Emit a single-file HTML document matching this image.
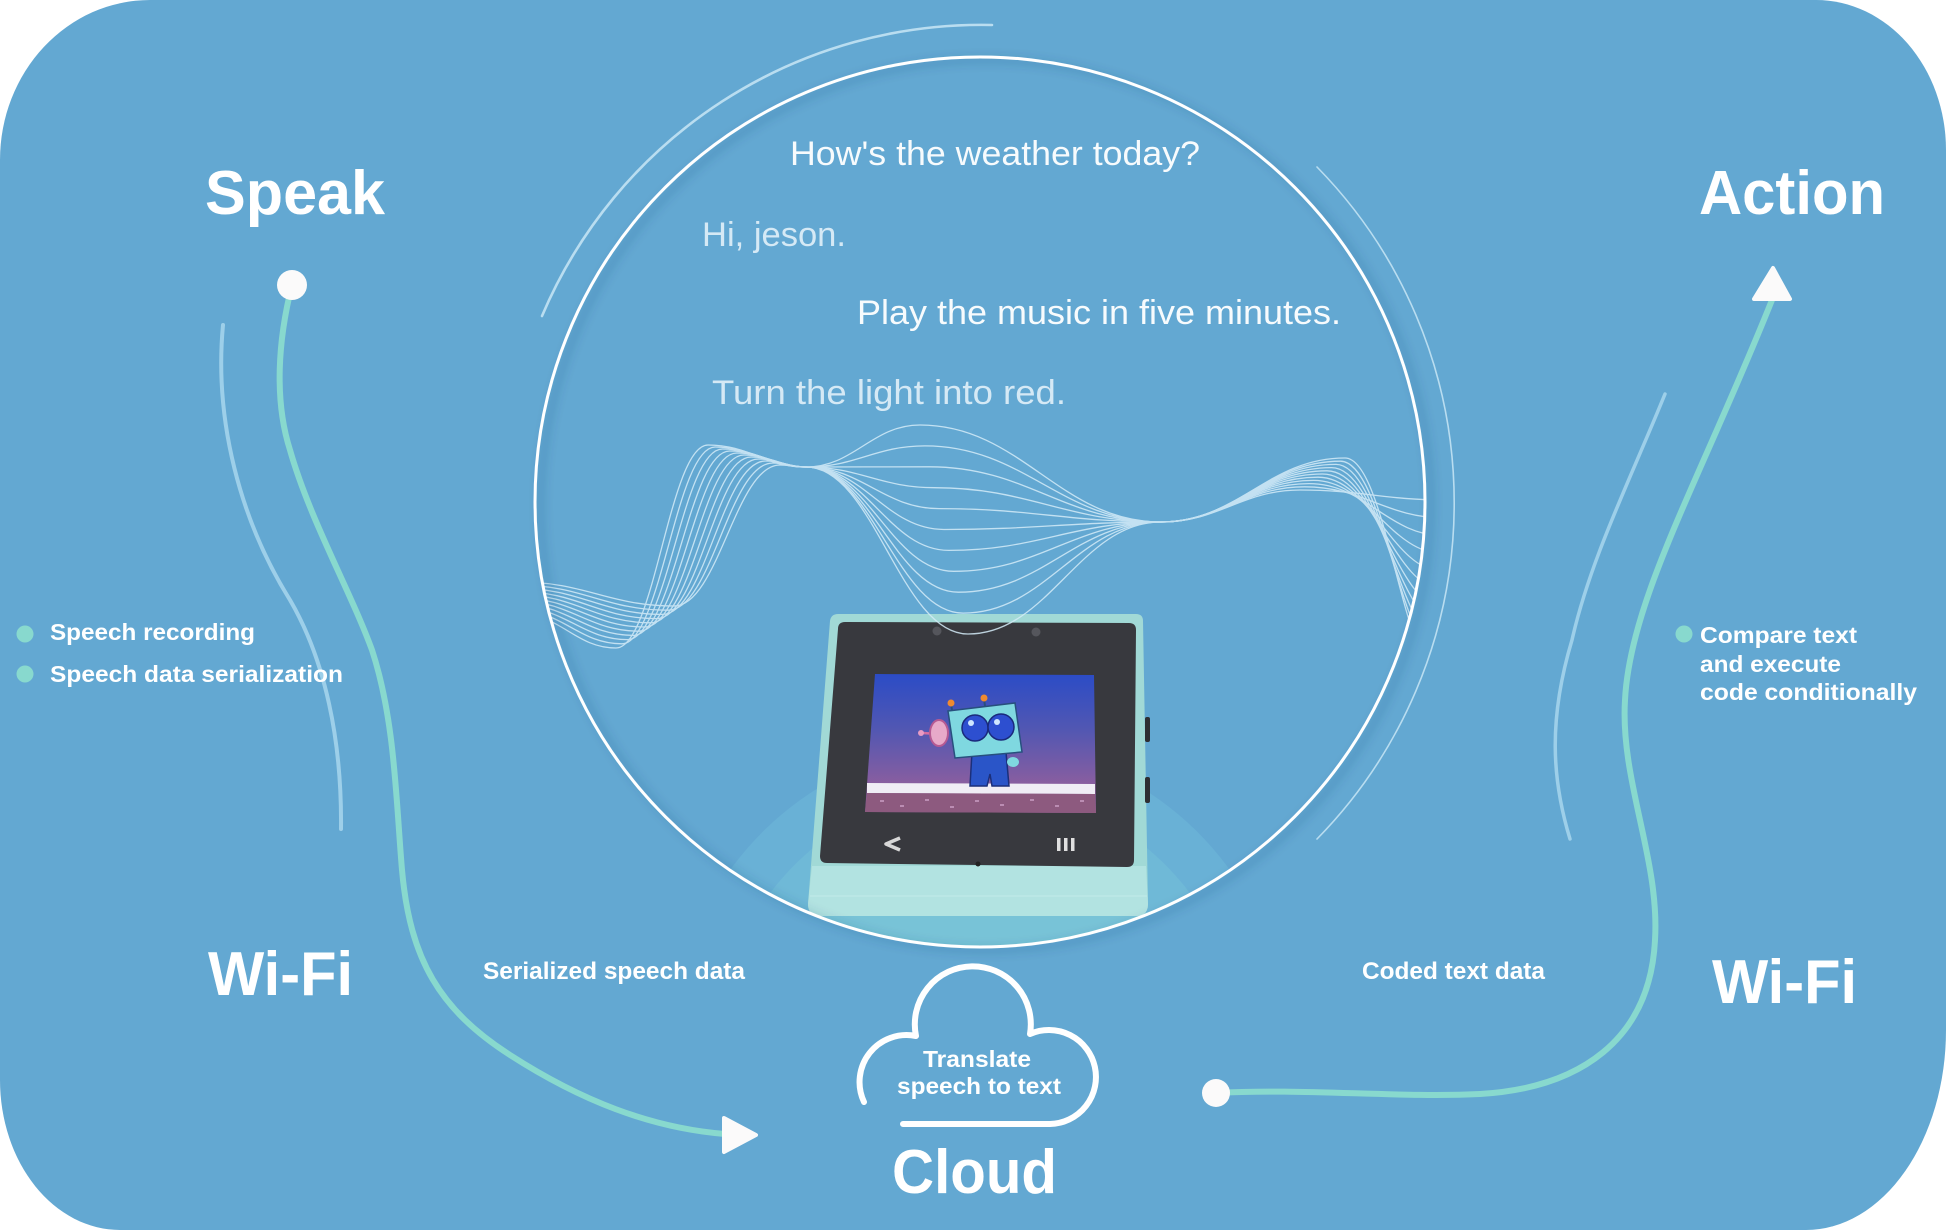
<!DOCTYPE html>
<html>
<head>
<meta charset="utf-8">
<style>
html,body{margin:0;padding:0;background:#ffffff;width:1946px;height:1230px;overflow:hidden;position:relative}
svg{display:block;position:absolute;left:0;top:0}
text{font-family:"Liberation Sans",sans-serif}
.t{font-weight:bold;fill:#ffffff}
</style>
</head>
<body>
<svg width="1946" height="1230" viewBox="0 0 1946 1230" xmlns="http://www.w3.org/2000/svg">
<defs>
  <clipPath id="cc"><circle cx="980" cy="502" r="444"/></clipPath>
  <filter id="sh" x="-5%" y="-5%" width="110%" height="110%">
    <feDropShadow dx="6" dy="3" stdDeviation="5" flood-color="#17466f" flood-opacity="0.4"/>
  </filter>
  <linearGradient id="scr" x1="0" y1="674" x2="0" y2="786" gradientUnits="userSpaceOnUse">
    <stop offset="0" stop-color="#2b4cc6"/>
    <stop offset="0.5" stop-color="#5257b2"/>
    <stop offset="1" stop-color="#8b5e9f"/>
  </linearGradient>
</defs>

<!-- background -->
<path d="M150,0 H1816 A130,150 0 0 1 1946,150 V1030 A140,200 0 0 1 1806,1230 H120 A120,150 0 0 1 0,1080 V160 A150,160 0 0 1 150,0 Z" fill="#63a8d2"/>

<!-- faint outer arcs -->
<path d="M542,316 A477,477 0 0 1 992,25" fill="none" stroke="#c2e2f3" stroke-width="2.6" stroke-linecap="round" opacity="0.9"/>
<path d="M1317,167 A480,480 0 0 1 1317,839" fill="none" stroke="#c2e2f3" stroke-width="1.6" stroke-linecap="round" opacity="0.9"/>

<!-- faint side lines -->
<path d="M223,325 C214,420 240,520 290,600 C325,660 342,740 341,829" fill="none" stroke="#9dcfe9" stroke-width="4" stroke-linecap="round"/>
<path d="M1665,394 C1630,480 1590,560 1572,640 C1548,720 1552,780 1570,839" fill="none" stroke="#9dcfe9" stroke-width="3.5" stroke-linecap="round"/>

<!-- glow inside circle -->
<g clip-path="url(#cc)">
  <path d="M688.7,950 A308,308 0 0 1 1271.3,950 Z" fill="#69b1d6"/>
  <path d="M737.8,950 A262,262 0 0 1 1222.2,950 Z" fill="#6fb9d7"/>
  <path d="M788.5,950 A216,216 0 0 1 1171.5,950 Z" fill="#78c3d7"/>
</g>

<!-- device -->
<g>
  <path d="M838,614 L1136,614 Q1143,614 1143,621 L1148,904 Q1148,916 1136,916 L821,916 Q808,916 808,904 L830,621 Q831,614 838,614 Z" fill="#a1d9d6"/>
  <path d="M812,866 L1146,866 L1148,904 Q1148,916 1136,916 L821,916 Q808,916 808,904 Z" fill="#b2e3e1"/>
  <line x1="810" y1="896" x2="1147" y2="896" stroke="#c3ebe9" stroke-width="1"/>
  <path d="M845,622 L1129,623 Q1136,623 1136,630 L1134,860 Q1134,867 1127,867 L827,863 Q820,863 820,856 L838,629 Q838,622 845,622 Z" fill="#38393e"/>
  <circle cx="937" cy="631" r="4.5" fill="#55565c"/>
  <circle cx="1036" cy="632" r="4.5" fill="#55565c"/>
  <circle cx="978" cy="864" r="2.5" fill="#222"/>
  <rect x="1145" y="717" width="5" height="25" rx="2" fill="#2e2f33"/>
  <rect x="1145" y="777" width="5" height="26" rx="2" fill="#2e2f33"/>
  <!-- screen -->
  <polygon points="875,674 1094,675 1096,813 865,812" fill="url(#scr)"/>
  <polygon points="867,783 1095,784 1095,794 867,793" fill="#f0edf5"/>
  <polygon points="867,793 1095,794 1096,813 865,812" fill="#8d5a7f"/>
  <g fill="#c79ac0" opacity="0.8">
    <rect x="880" y="800" width="4" height="2"/><rect x="900" y="805" width="4" height="2"/><rect x="925" y="799" width="4" height="2"/>
    <rect x="950" y="806" width="4" height="2"/><rect x="975" y="800" width="4" height="2"/><rect x="1000" y="804" width="4" height="2"/>
    <rect x="1030" y="799" width="4" height="2"/><rect x="1055" y="805" width="4" height="2"/><rect x="1080" y="800" width="4" height="2"/>
  </g>
  <!-- robot -->
  <line x1="922" y1="733" x2="940" y2="734" stroke="#d56fa3" stroke-width="2.5"/>
  <circle cx="921" cy="733" r="3" fill="#e89bc4"/>
  <ellipse cx="939" cy="733" rx="9" ry="13" fill="#e7a9c9" stroke="#b65a93" stroke-width="2"/>
  <path d="M972,752 L1006,752 L1009,786 L992,786 L990,774 L987,786 L970,786 Z" fill="#2a55c8" stroke="#1b2f7a" stroke-width="1.5"/>
  <ellipse cx="1013" cy="762" rx="6" ry="5" fill="#7fd8e0"/>
  <polygon points="948,711 1015,703 1022,752 955,758" fill="#7fd8e0" stroke="#27507e" stroke-width="1.5"/>
  <circle cx="975" cy="728" r="13" fill="#2d4fd0" stroke="#1a2a7c" stroke-width="1.5"/>
  <circle cx="1001" cy="727" r="13" fill="#2d4fd0" stroke="#1a2a7c" stroke-width="1.5"/>
  <circle cx="971" cy="723" r="3" fill="#cfe6ff"/>
  <circle cx="997" cy="722" r="3" fill="#cfe6ff"/>
  <line x1="952" y1="710" x2="951" y2="704" stroke="#27507e" stroke-width="2"/>
  <circle cx="951" cy="703" r="3.5" fill="#f08a30"/>
  <line x1="985" y1="706" x2="984" y2="699" stroke="#27507e" stroke-width="2"/>
  <circle cx="984" cy="698" r="3.5" fill="#f08a30"/>
  <!-- buttons -->
  <polyline points="900,838 886,844 900,850" fill="none" stroke="#d8d8d8" stroke-width="3.5" stroke-linejoin="round"/>
  <rect x="1057" y="838" width="3.5" height="13" fill="#e0e0e0"/>
  <rect x="1064" y="838" width="3.5" height="13" fill="#e0e0e0"/>
  <rect x="1071" y="838" width="3.5" height="13" fill="#e0e0e0"/>
</g>

<!-- waves -->
<g clip-path="url(#cc)">
  <g id="waves" fill="none" stroke="#d4ecf8" stroke-width="1.3" opacity="0.85"></g>
</g>

<!-- main circle ring -->
<circle cx="980" cy="502" r="445" fill="none" stroke="#ffffff" stroke-width="3" filter="url(#sh)"/>

<!-- circle texts -->
<text x="790" y="165" font-size="34" fill="#ffffff" fill-opacity="0.95" textLength="410" lengthAdjust="spacingAndGlyphs">How's the weather today?</text>
<text x="702" y="246" font-size="34" fill="#e1f0f8" fill-opacity="0.9" textLength="144" lengthAdjust="spacingAndGlyphs">Hi, jeson.</text>
<text x="857" y="324" font-size="34" fill="#ffffff" fill-opacity="0.95" textLength="484" lengthAdjust="spacingAndGlyphs">Play the music in five minutes.</text>
<text x="712" y="404" font-size="34" fill="#e1f0f8" fill-opacity="0.9" textLength="354" lengthAdjust="spacingAndGlyphs">Turn the light into red.</text>

<!-- green connectors -->
<path d="M292,285 C278,340 274,400 290,450 C310,520 350,590 372,650 C395,720 396,800 402,870 C410,960 440,1010 510,1055 C580,1100 650,1128 725,1134" fill="none" stroke="#88d9ce" stroke-width="6" stroke-linecap="round"/>
<path d="M1216,1093 C1300,1088 1400,1098 1480,1094 C1580,1088 1650,1040 1655,940 C1660,860 1620,780 1625,700 C1630,600 1700,480 1772,300" fill="none" stroke="#88d9ce" stroke-width="6" stroke-linecap="round"/>

<circle cx="292" cy="285" r="15" fill="#fbfafa"/>
<circle cx="1216" cy="1093" r="14" fill="#fbfafa"/>
<polygon points="724,1118 756,1135 724,1152" fill="#fbfafa" stroke="#fbfafa" stroke-width="4" stroke-linejoin="round"/>
<polygon points="1773,268 1790,299 1754,299" fill="#fbfafa" stroke="#fbfafa" stroke-width="4" stroke-linejoin="round"/>

<!-- titles -->
<text class="t" x="205" y="214" font-size="62" textLength="180" lengthAdjust="spacingAndGlyphs">Speak</text>
<text class="t" x="1699" y="214" font-size="62" textLength="186" lengthAdjust="spacingAndGlyphs">Action</text>
<text class="t" x="208" y="995" font-size="62" textLength="145" lengthAdjust="spacingAndGlyphs">Wi-Fi</text>
<text class="t" x="1712" y="1003" font-size="62" textLength="145" lengthAdjust="spacingAndGlyphs">Wi-Fi</text>
<text class="t" x="892" y="1193" font-size="62" textLength="165" lengthAdjust="spacingAndGlyphs">Cloud</text>

<!-- bullets -->
<circle cx="25" cy="634" r="8.5" fill="#88d9ce"/>
<text class="t" x="50" y="640" font-size="23" textLength="205" lengthAdjust="spacingAndGlyphs">Speech recording</text>
<circle cx="25" cy="674" r="8.5" fill="#88d9ce"/>
<text class="t" x="50" y="682" font-size="23" textLength="293" lengthAdjust="spacingAndGlyphs">Speech data serialization</text>

<circle cx="1684" cy="634" r="8.5" fill="#88d9ce"/>
<text class="t" x="1700" y="643" font-size="23" textLength="157" lengthAdjust="spacingAndGlyphs">Compare text</text>
<text class="t" x="1700" y="672" font-size="23" textLength="141" lengthAdjust="spacingAndGlyphs">and execute</text>
<text class="t" x="1700" y="700" font-size="23" textLength="217" lengthAdjust="spacingAndGlyphs">code conditionally</text>

<!-- connector labels -->
<text class="t" x="483" y="979" font-size="24" textLength="262" lengthAdjust="spacingAndGlyphs">Serialized speech data</text>
<text class="t" x="1362" y="979" font-size="24" textLength="183" lengthAdjust="spacingAndGlyphs">Coded text data</text>

<!-- cloud -->
<path d="M864,1102 A47,47 0 0 1 916,1036 A58,58 0 1 1 1030,1034 A47,47 0 1 1 1050,1124 H903" fill="none" stroke="#ffffff" stroke-width="6" stroke-linecap="round" stroke-linejoin="round"/>
<text class="t" x="923" y="1067" font-size="23" textLength="108" lengthAdjust="spacingAndGlyphs">Translate</text>
<text class="t" x="897" y="1094" font-size="23" textLength="164" lengthAdjust="spacingAndGlyphs">speech to text</text>
</svg>
<script>
(function(){
  var g=document.getElementById('waves');
  if(!g) return;
  var N=11, NS='http://www.w3.org/2000/svg';
  for(var k=0;k<N;k++){
    var t=k/(N-1);
    var P=[[520,614-32*t],[616+58*t,648-42*t],[708+72*t,445+20*t],[806,467],[968-48*t,634-209*t],[1161,522],[1300+45*t,490-32*t],[1445,500+180*t]];
    var d='M'+P[0][0].toFixed(1)+','+P[0][1].toFixed(1);
    for(var i=1;i<P.length;i++){
      var p=P[i-1],q=P[i],dx=(q[0]-p[0])*0.42;
      d+=' C'+(p[0]+dx).toFixed(1)+','+p[1].toFixed(1)+' '+(q[0]-dx).toFixed(1)+','+q[1].toFixed(1)+' '+q[0].toFixed(1)+','+q[1].toFixed(1);
    }
    var e=document.createElementNS(NS,'path');
    e.setAttribute('d',d);
    g.appendChild(e);
  }
})();
</script>
</body>
</html>
